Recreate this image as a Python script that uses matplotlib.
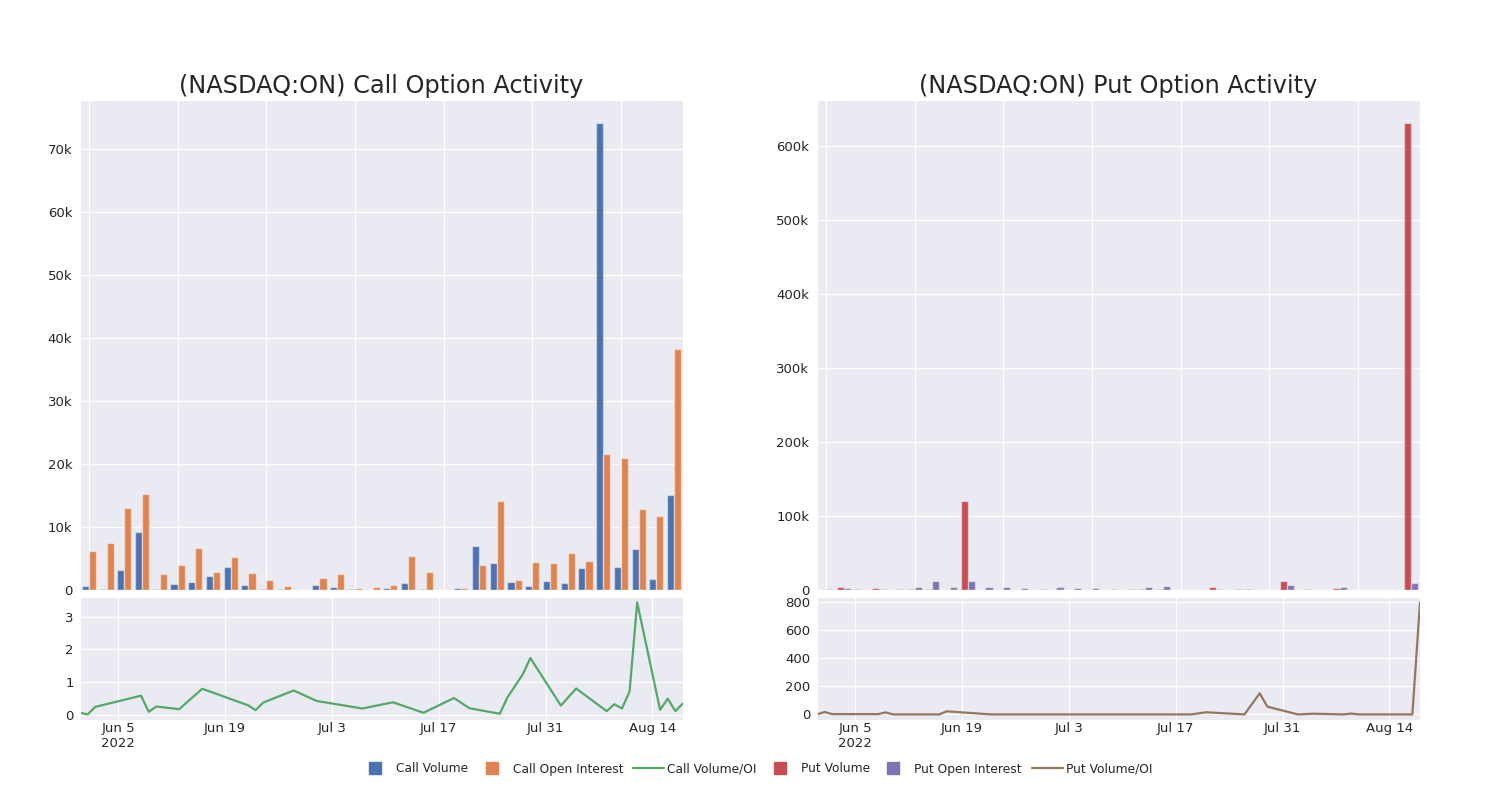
import numpy as np
import pandas as pd
import matplotlib
matplotlib.use("Agg")
import matplotlib.pyplot as plt
import seaborn as sns
from matplotlib.lines import Line2D
from matplotlib.ticker import FuncFormatter

sns.set_style("darkgrid")
plt.rcParams['font.family'] = ['DejaVu Sans']

# trading days shown in the chart
dates = pd.to_datetime([
    "2022-05-31", "2022-06-01", "2022-06-02", "2022-06-08", "2022-06-09", "2022-06-10",
    "2022-06-13", "2022-06-16", "2022-06-17", "2022-06-22", "2022-06-23", "2022-06-24",
    "2022-06-28", "2022-07-01", "2022-07-07", "2022-07-11", "2022-07-15", "2022-07-19",
    "2022-07-21", "2022-07-25", "2022-07-26", "2022-07-28", "2022-07-29", "2022-08-02",
    "2022-08-04", "2022-08-08", "2022-08-09", "2022-08-10", "2022-08-11", "2022-08-12",
    "2022-08-15", "2022-08-16", "2022-08-17", "2022-08-18",
])

call_volume = [640, 200, 3200, 9200, 200, 1000, 1200, 2300, 3700, 850, 200, 230,
               40, 800, 500, 140, 50, 390, 1150, 100, 30, 370, 7050, 4300,
               1330, 580, 1500, 1170, 3500, 74100, 3660, 6500, 1700, 15060]
call_oi = [6150, 7500, 13000, 15300, 2500, 3900, 6600, 2800, 5250, 2750, 1550, 600,
           53, 1950, 2600, 370, 480, 750, 5400, 2900, 55, 290, 4000, 14100,
           1600, 4500, 4350, 5830, 4600, 21600, 20900, 12900, 11800, 38200]
call_ratio = [0.07, 0.02, 0.25, 0.59, 0.10, 0.26, 0.18, 0.80, 0.72, 0.30, 0.15, 0.38,
              0.75, 0.43, 0.20, 0.39, 0.07, 0.52, 0.21, 0.04, 0.54, 1.24, 1.74, 0.29,
              0.81, 0.12, 0.33, 0.20, 0.72, 3.43, 0.16, 0.50, 0.12, 0.36]

put_volume = [0, 3600, 900, 2300, 0, 900, 900, 0, 120000, 0, 0, 0,
              500, 0, 0, 0, 0, 0, 900, 900, 0, 100, 4500, 0,
              900, 0, 12700, 0, 200, 2300, 0, 0, 0, 631000]
put_oi = [900, 2300, 0, 900, 1800, 4000, 11800, 3600, 11800, 4000, 4000, 3200,
          700, 4000, 2300, 3200, 900, 900, 4000, 5400, 300, 0, 900, 900,
          0, 0, 7200, 900, 300, 3600, 0, 0, 500, 9500]
put_ratio = [0, 17, 2, 2, 14, 0, 0, 0, 22, 3, 0, 0,
             0, 0, 0, 0, 0, 0, 15, 3, 0, 150, 55, 0,
             5, 0, 6, 0, 0, 0, 0, 0, 0, 795]

date_ticks = pd.to_datetime(["2022-06-05", "2022-06-19", "2022-07-03",
                             "2022-07-17", "2022-07-31", "2022-08-14"])
date_labels = ["Jun 5\n2022", "Jun 19", "Jul 3", "Jul 17", "Jul 31", "Aug 14"]

legend_labels = ["Call Volume", "Call Open Interest", "Call Volume/OI",
                 "Put Volume", "Put Open Interest", "Put Volume/OI"]

BLUE, ORANGE, GREEN = "#4c72b0", "#dd8452", "#55a868"
RED, PURPLE, BROWN = "#c44e52", "#8172b3", "#937860"

W, H = 1500, 800
fig = plt.figure(figsize=(15, 8), dpi=100)


def kfmt(v, pos):
    if v == 0:
        return "0"
    return f"{v/1000:g}k"


def panel(left, title, vol, oi, ratio, c1, c2, c3):
    ax = fig.add_axes([left / W, 1 - 590 / H, 603 / W, 490 / H])
    ax2 = fig.add_axes([left / W, 1 - 720 / H, 603 / W, 123 / H])

    x = np.arange(len(vol))
    ax.bar(x - 0.2, vol, width=0.4, color=c1, edgecolor=(1, 1, 1, 0.45), linewidth=1)
    ax.bar(x + 0.2, oi, width=0.4, color=c2, edgecolor=(1, 1, 1, 0.45), linewidth=1)
    ax.set_xlim(-0.5, len(vol) - 0.5)
    ax.set_ylim(0, max(max(vol), max(oi)) * 1.05)
    ax.set_xticks(x[::5])
    ax.set_xticklabels([])
    ax.yaxis.set_major_formatter(FuncFormatter(kfmt))
    ax.tick_params(axis="y", labelsize=9.5, pad=2)
    ax.set_title(title, fontsize=17.3, color="#262626", pad=5)

    ax2.plot(dates, ratio, color=c3, linewidth=1.6)
    ax2.set_xlim(dates[0], dates[-1])
    ax2.set_xticks(date_ticks)
    ax2.set_xticklabels(date_labels)
    ax2.tick_params(labelsize=9.5, pad=1)
    ax2.tick_params(axis="x", pad=-2)
    return ax, ax2


ax, ax2 = panel(80, "(NASDAQ:ON) Call Option Activity",
                call_volume, call_oi, call_ratio, BLUE, ORANGE, GREEN)
ax2.set_yticks([0, 1, 2, 3])
bx, bx2 = panel(817, "(NASDAQ:ON) Put Option Activity",
                put_volume, put_oi, put_ratio, RED, PURPLE, BROWN)
bx.set_yticks([0, 100000, 200000, 300000, 400000, 500000, 600000])
bx2.set_yticks([0, 200, 400, 600, 800])

# legend row, laid out by hand so all labels share one baseline
leg_colors = [BLUE, ORANGE, GREEN, RED, PURPLE, BROWN]
leg_kinds = ["box", "box", "line", "box", "box", "line"]
leg_x = [375, 492, 633, 780, 893, 1032]
ly = 1 - 768 / H
base = 1 - 772.5 / H
for lbl, col, kind, px in zip(legend_labels, leg_colors, leg_kinds, leg_x):
    if kind == "box":
        fig.add_artist(Line2D([px / W], [ly], marker="s", markersize=8.5,
                              color=col, linestyle="none", transform=fig.transFigure))
        tx = px + 21
    else:
        fig.add_artist(Line2D([px / W, (px + 31) / W], [ly, ly], color=col,
                              linewidth=1.6, transform=fig.transFigure))
        tx = px + 34
    fig.text(tx / W, base, lbl, fontsize=8.8, color="#262626", va="baseline", ha="left")

fig.savefig("out.png", dpi=100)
